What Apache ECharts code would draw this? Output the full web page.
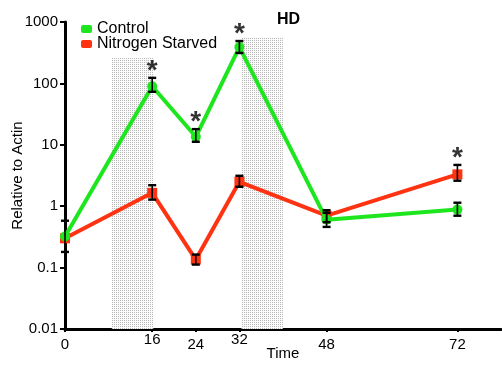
<!DOCTYPE html>
<html>
<head>
<meta charset="utf-8">
<script src="https://cdn.jsdelivr.net/npm/echarts@6/dist/echarts.min.js"></script>
<style>
html,body{margin:0;padding:0;background:#fff;}
#chart{width:502px;height:365px;}
</style>
</head>
<body>
<div id="chart"></div>
<script>
// Sampling times (h)
const times = [0, 16, 24, 32, 48, 72];
const xTickValues = [0, 16, 24, 32, 48, 72];
const yTickLabels = ['0.01', '0.1', '1', '10', '100', '1000'];

// Control: mean and error bar range
const controlMean = [0.32, 90, 13.5, 390, 0.6, 0.88];
const controlLow  = [0.18, 73, 11.2, 313, 0.46, 0.70];
const controlHigh = [0.58, 123, 18, 490, 0.78, 1.14];

// Nitrogen starved: mean and error bar range
const starvedMean = [0.3, 1.65, 0.135, 2.5, 0.7, 3.3];
const starvedLow  = [null, 1.28, 0.112, 2.07, 0.55, 2.6];
const starvedHigh = [null, 2.2, 0.163, 3.13, 0.86, 4.7];

// Significant time points (marked with *)
const sigTimes = [16, 24, 32, 72];

// Dark periods: [start, end, top of band]
const darkPeriods = [[8.6, 16.2, 260], [32.4, 40, 570]];

const FONT = 'Arial, "Liberation Sans", sans-serif';
const GREEN = '#1ee61e';
const RED = '#ff3311';

function dotPattern() {
  const c = document.createElement('canvas');
  c.width = 2; c.height = 2;
  const g = c.getContext('2d');
  g.fillStyle = '#fbfbfb';
  g.fillRect(0, 0, 2, 2);
  g.fillStyle = '#b9b9b9';
  g.fillRect(0, 0, 1, 1);
  return c;
}

function pairs(xs, ys) { return xs.map((x, i) => [x, ys[i]]); }
function errData(lo, hi) {
  const out = [];
  times.forEach((t, i) => { if (lo[i] != null && hi[i] != null) out.push([t, lo[i], hi[i]]); });
  return out;
}

function errorBarRender(params, api) {
  const x = api.value(0);
  const pLo = api.coord([x, api.value(1)]);
  const pHi = api.coord([x, api.value(2)]);
  const hw = 4;
  const st = { stroke: '#000', lineWidth: 2.4 };
  return {
    type: 'group',
    children: [
      { type: 'line', shape: { x1: pLo[0], y1: pLo[1], x2: pHi[0], y2: pHi[1] }, style: { stroke: '#000', lineWidth: 1.6 } },
      { type: 'line', shape: { x1: pLo[0] - hw, y1: pLo[1], x2: pLo[0] + hw, y2: pLo[1] }, style: st },
      { type: 'line', shape: { x1: pHi[0] - hw, y1: pHi[1], x2: pHi[0] + hw, y2: pHi[1] }, style: st }
    ]
  };
}

const sigData = sigTimes.map(t => {
  const i = times.indexOf(t);
  const top = Math.max(controlHigh[i] || 0, starvedHigh[i] || 0);
  return [t, top];
});

const pattern = { image: dotPattern(), repeat: 'repeat' };

const chart = echarts.init(document.getElementById('chart'), null, { renderer: 'canvas' });
chart.setOption({
  animation: false,
  backgroundColor: '#fff',
  title: {
    text: 'HD', left: 272, top: 7,
    textStyle: { fontFamily: FONT, fontSize: 16, fontWeight: 'bold', color: '#000' }
  },
  legend: {
    orient: 'vertical', left: 76, top: 16, itemGap: -1,
    itemWidth: 11, itemHeight: 8, icon: 'roundRect',
    textStyle: { fontFamily: FONT, fontSize: 16, color: '#000' },
    data: ['Control', 'Nitrogen Starved']
  },
  grid: { left: 65, right: 1, top: 22, bottom: 36, containLabel: false, outerBoundsMode: 'none' },
  xAxis: {
    type: 'value', min: 0, max: 80,
    name: 'Time', nameLocation: 'middle', nameGap: 17, nameMoveOverlap: false,
    nameTextStyle: { fontFamily: FONT, fontSize: 15, color: '#000' },
    axisLine: { lineStyle: { color: '#000', width: 3 } },
    axisTick: { show: true, inside: false, length: 3, customValues: xTickValues, lineStyle: { color: '#000', width: 2 } },
    axisLabel: {
      customValues: xTickValues, margin: 3,
      fontFamily: FONT, fontSize: 15, color: '#000',
      formatter: v => (v === 16 || v === 32) ? '{hi|' + v + '}' : '{lo|' + v + '}',
      rich: {
        hi: { fontFamily: FONT, fontSize: 15, color: '#000', padding: [0, 0, 0, 0] },
        lo: { fontFamily: FONT, fontSize: 15, color: '#000', padding: [5, 0, 0, 0] }
      }
    },
    splitLine: { show: false }
  },
  yAxis: {
    type: 'log', min: 0.01, max: 1000, logBase: 10,
    name: 'Relative to Actin', nameLocation: 'middle', nameGap: 40, nameMoveOverlap: false,
    nameTextStyle: { fontFamily: FONT, fontSize: 15, color: '#000' },
    axisLine: { show: true, lineStyle: { color: '#000', width: 3 } },
    axisTick: { show: true, length: 5, lineStyle: { color: '#000', width: 2 } },
    axisLabel: {
      margin: 7, fontFamily: FONT, fontSize: 15, color: '#000',
      formatter: v => yTickLabels.find(s => Math.abs(parseFloat(s) - v) / v < 1e-6) || ''
    },
    splitLine: { show: false }
  },
  series: [
    {
      name: 'dark', type: 'line', data: [], silent: true, z: 0,
      markArea: {
        silent: true,
        itemStyle: { color: pattern },
        data: darkPeriods.map(p => [{ xAxis: p[0], yAxis: 0.01 }, { xAxis: p[1], yAxis: p[2] }])
      }
    },
    {
      name: 'Nitrogen Starved', type: 'line', data: pairs(times, starvedMean),
      symbol: 'rect', symbolSize: 10, z: 3,
      lineStyle: { color: RED, width: 4 }, itemStyle: { color: RED }
    },
    {
      name: 'Control', type: 'line', data: pairs(times, controlMean),
      symbol: 'circle', symbolSize: 10, z: 4,
      lineStyle: { color: GREEN, width: 4 }, itemStyle: { color: GREEN }
    },
    {
      name: 'starvedErr', type: 'custom', renderItem: errorBarRender,
      data: errData(starvedLow, starvedHigh), z: 5, silent: true
    },
    {
      name: 'controlErr', type: 'custom', renderItem: errorBarRender,
      data: errData(controlLow, controlHigh), z: 5, silent: true
    },
    {
      name: 'sig', type: 'scatter', data: sigData, symbolSize: 1,
      itemStyle: { color: 'rgba(0,0,0,0)' }, z: 6, silent: true,
      label: {
        show: true, position: 'top', distance: -8, formatter: '*',
        fontFamily: FONT, fontSize: 28, fontWeight: 'bold', color: '#000'
      }
    }
  ]
});
</script>
</body>
</html>
